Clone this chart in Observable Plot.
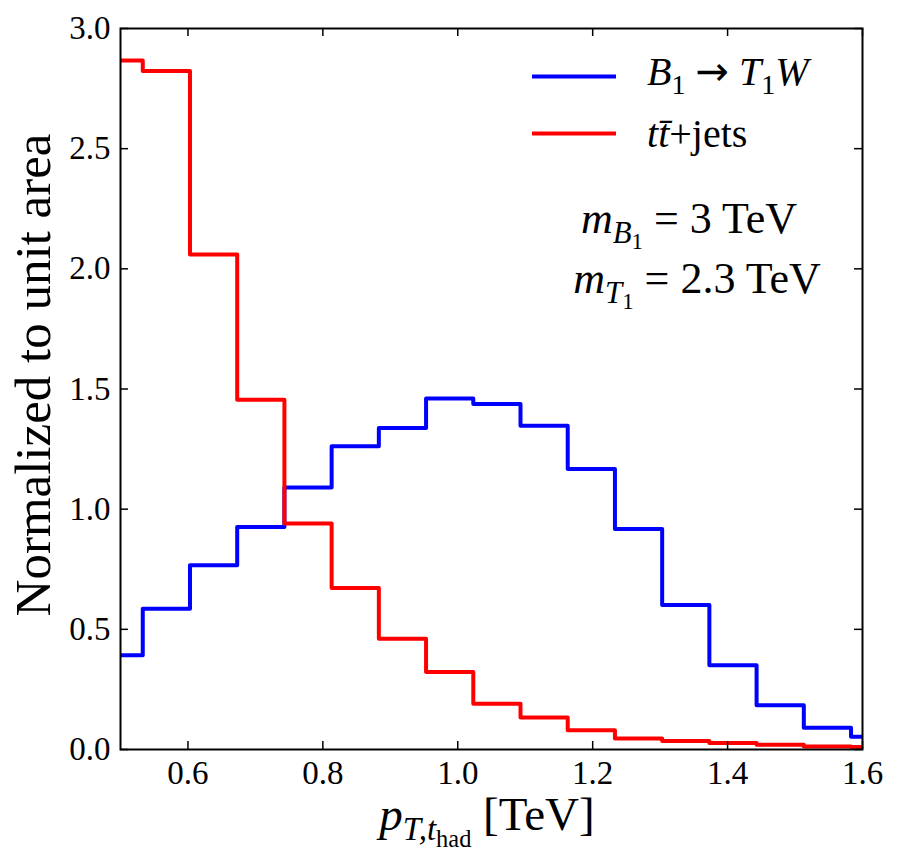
<!DOCTYPE html>
<html>
<head>
<meta charset="utf-8">
<script src="https://cdn.jsdelivr.net/npm/d3@7"></script>
<script src="https://cdn.jsdelivr.net/npm/@observablehq/plot@0.6"></script>
<style>
  html, body { margin: 0; padding: 0; background: #fff; }
  #chart svg { display: block; }
</style>
</head>
<body>
<div id="chart"></div>
<script>
// ---- data ----
const binEdges = [0.463, 0.533, 0.603, 0.673, 0.743, 0.813, 0.883, 0.953, 1.023, 1.093,
                  1.163, 1.233, 1.303, 1.373, 1.443, 1.513, 1.583, 1.653];
const signalValues = [0.392, 0.586, 0.767, 0.926, 1.090, 1.262, 1.338, 1.460, 1.438,
                      1.347, 1.167, 0.917, 0.601, 0.351, 0.184, 0.090, 0.053];
const backgroundValues = [2.867, 2.823, 2.060, 1.455, 0.940, 0.672, 0.461, 0.322, 0.190,
                          0.133, 0.080, 0.046, 0.035, 0.027, 0.020, 0.013, 0.010];
const xTicks = [0.6, 0.8, 1.0, 1.2, 1.4, 1.6];
const yTicks = [0.0, 0.5, 1.0, 1.5, 2.0, 2.5, 3.0];
const xDomain = [0.5, 1.6];
const yDomain = [0, 3];
const seriesColors = ["#0000ff", "#ff0000"];

// ---- layout ----
const W = 900, H = 864;
const mL = 120, mR = 38, mT = 28, mB = 115;
const innerW = W - mL - mR, innerH = H - mT - mB;
const serif = "'Liberation Serif', 'DejaVu Serif', serif";

function stepPoints(values) {
  const pts = values.map((v, i) => ({x: binEdges[i], y: v}));
  pts.push({x: binEdges[values.length], y: values[values.length - 1]});
  return pts;
}

const svg = Plot.plot({
  width: W, height: H,
  marginLeft: mL, marginRight: mR, marginTop: mT, marginBottom: mB,
  style: {fontFamily: serif, background: "white", color: "black"},
  x: {domain: xDomain, label: null},
  y: {domain: yDomain, label: null},
  marks: [
    Plot.line(stepPoints(signalValues), {x: "x", y: "y", curve: "step-after", stroke: seriesColors[0], strokeWidth: 4, clip: true}),
    Plot.line(stepPoints(backgroundValues), {x: "x", y: "y", curve: "step-after", stroke: seriesColors[1], strokeWidth: 4, clip: true}),
    // inward ticks on all four sides
    Plot.tickX(xTicks, {x: d => d, insetTop: innerH - 8, stroke: "black", strokeWidth: 1.5}),
    Plot.tickX(xTicks, {x: d => d, insetBottom: innerH - 8, stroke: "black", strokeWidth: 1.5}),
    Plot.tickY(yTicks, {y: d => d, insetRight: innerW - 8, stroke: "black", strokeWidth: 1.5}),
    Plot.tickY(yTicks, {y: d => d, insetLeft: innerW - 8, stroke: "black", strokeWidth: 1.5}),
    Plot.axisX(xTicks, {tickSize: 0, tickPadding: 11, fontSize: 33, label: null, tickFormat: d => d.toFixed(1)}),
    Plot.axisY(yTicks, {tickSize: 0, tickPadding: 10, fontSize: 33, label: null, tickFormat: d => d.toFixed(1)}),
    Plot.frame({stroke: "black", strokeWidth: 2})
  ]
});
document.getElementById("chart").appendChild(svg);

// ---- rich (math-like) text ----
function richText({x, y, size, anchor = "start", rotate = 0, parts}) {
  const t = d3.select(svg).append("text")
    .attr("font-family", serif)
    .attr("font-size", size)
    .attr("text-anchor", anchor)
    .attr("fill", "black");
  if (rotate) t.attr("transform", `translate(${x},${y}) rotate(${rotate})`);
  else t.attr("x", x).attr("y", y);
  const offs = [0, 0.22 * size, 0.36 * size];
  const scales = [1, 0.7, 0.52];
  let cur = 0;
  for (const p of parts) {
    const lvl = p.lvl || 0;
    const ts = t.append("tspan")
      .attr("dy", offs[lvl] - cur)
      .attr("font-size", size * scales[lvl])
      .attr("font-style", p.i ? "italic" : "normal")
      .text(p.t);
    if (p.f) ts.attr("font-family", p.f);
    cur = offs[lvl];
  }
  return t;
}

// legend
const lg = d3.select(svg).append("g");
lg.append("line").attr("x1", 532).attr("x2", 616).attr("y1", 76.5).attr("y2", 76.5)
  .attr("stroke", seriesColors[0]).attr("stroke-width", 4);
lg.append("line").attr("x1", 532).attr("x2", 616).attr("y1", 133.5).attr("y2", 133.5)
  .attr("stroke", seriesColors[1]).attr("stroke-width", 4);
richText({x: 647, y: 85, size: 40, parts: [
  {t: "B", i: true}, {t: "1", lvl: 1}, {t: " "}, {t: "\u2192", f: "'DejaVu Sans'"}, {t: " "},
  {t: "T", i: true}, {t: "1", lvl: 1}, {t: "W", i: true}
]});
richText({x: 647, y: 147, size: 40, parts: [
  {t: "t", i: true}, {t: "t\u0304", i: true}, {t: "+jets"}
]});

// annotation
richText({x: 689, y: 233, size: 44, anchor: "middle", parts: [
  {t: "m", i: true}, {t: "B", i: true, lvl: 1}, {t: "1", lvl: 2}, {t: " = 3 TeV"}
]});
richText({x: 697, y: 293, size: 44, anchor: "middle", parts: [
  {t: "m", i: true}, {t: "T", i: true, lvl: 1}, {t: "1", lvl: 2}, {t: " = 2.3 TeV"}
]});

// axis labels
richText({x: 487, y: 830, size: 47, anchor: "middle", parts: [
  {t: "p", i: true}, {t: "T,", i: true, lvl: 1}, {t: "t", i: true, lvl: 1}, {t: "had", lvl: 2}, {t: " [TeV]"}
]});
richText({x: 50, y: 375, size: 51, anchor: "middle", rotate: -90, parts: [
  {t: "Normalized to unit area"}
]});
</script>
</body>
</html>
